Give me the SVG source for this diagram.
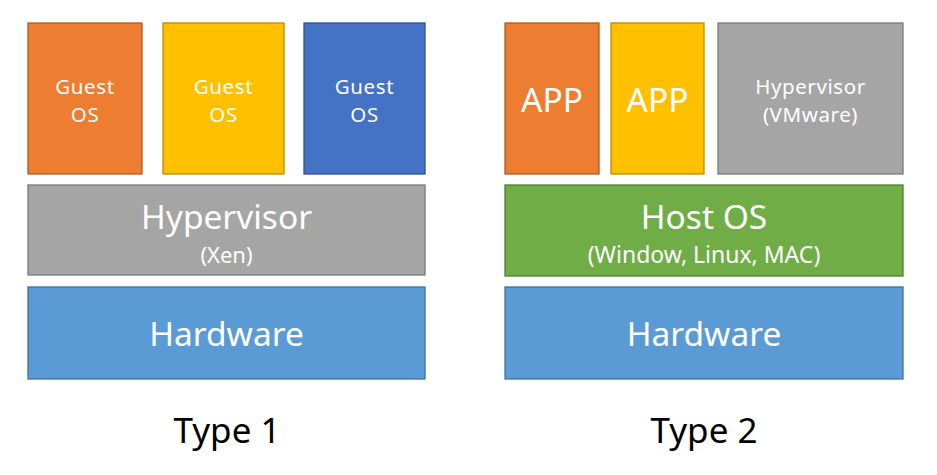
<svg xmlns="http://www.w3.org/2000/svg" width="937" height="475" viewBox="0 0 937 475">
<style>
rect{stroke-width:1.3}
.o{fill:#ED7D31;stroke:#AE5A21}
.y{fill:#FFC000;stroke:#BC8C00}
.b{fill:#4472C4;stroke:#2F528F}
.g{fill:#A5A5A5;stroke:#787878}
.gr{fill:#70AD47;stroke:#507E32}
.h{fill:#5B9BD5;stroke:#41719C}
text{font-family:"Noto Sans","Open Sans",sans-serif;fill:#fff;text-anchor:middle}
.s{font-size:20.5px;letter-spacing:0.6px}
.l{font-size:33.5px}
.xs{font-size:22px}
.w{font-size:23px}
.t{font-size:35px;fill:#000}
</style>
<rect width="937" height="475" fill="#fff"/>
<g id="t1-guest1"><rect class="o" x="28" y="23" width="114" height="151"/><text class="s" x="85" y="94">Guest</text><text class="s" x="85" y="122">OS</text></g>
<g id="t1-guest2"><rect class="y" x="163" y="23" width="121" height="151"/><text class="s" x="223.5" y="94">Guest</text><text class="s" x="223.5" y="122">OS</text></g>
<g id="t1-guest3"><rect class="b" x="304" y="23" width="121" height="151"/><text class="s" x="364.5" y="94">Guest</text><text class="s" x="364.5" y="122">OS</text></g>
<g id="t1-hyp"><rect class="g" x="28" y="185" width="397" height="90"/><text class="l" x="226.5" y="229">Hypervisor</text><text class="xs" x="226.5" y="263">(Xen)</text></g>
<g id="t1-hw"><rect class="h" x="28" y="287" width="397" height="92"/><text class="l" x="226.5" y="346">Hardware</text></g>
<g id="t2-app1"><rect class="o" x="505" y="23" width="94" height="151"/><text class="l" x="552" y="112">APP</text></g>
<g id="t2-app2"><rect class="y" x="611" y="23" width="93" height="151"/><text class="l" x="657.5" y="112">APP</text></g>
<g id="t2-hyp"><rect class="g" x="718" y="23" width="185" height="151"/><text class="s" x="810.5" y="94">Hypervisor</text><text class="s" x="810.5" y="122">(VMware)</text></g>
<g id="t2-host"><rect class="gr" x="505" y="185" width="398" height="91"/><text class="l" x="704" y="229">Host OS</text><text class="w" x="704" y="263">(Window, Linux, MAC)</text></g>
<g id="t2-hw"><rect class="h" x="505" y="287" width="398" height="92"/><text class="l" x="704" y="346">Hardware</text></g>
<g id="labels"><text class="t" x="227" y="443">Type 1</text><text class="t" x="704" y="443">Type 2</text></g>
<g id="connectors"/>
</svg>
